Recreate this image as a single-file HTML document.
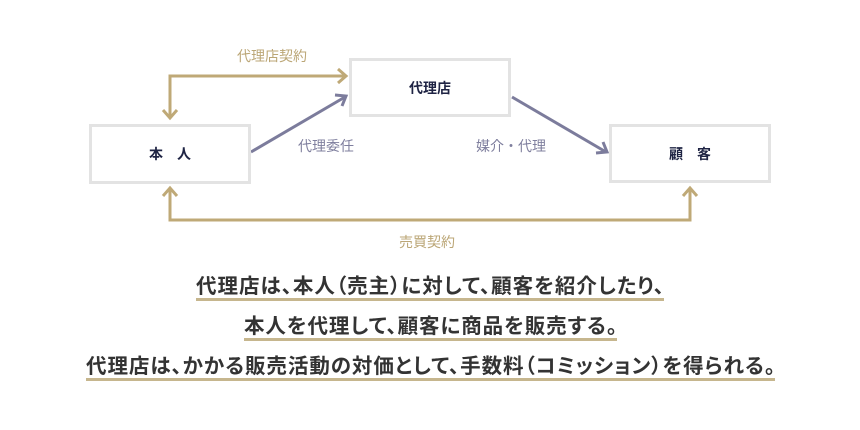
<!DOCTYPE html>
<html><head><meta charset="utf-8"><style>
html,body{margin:0;padding:0;background:#fff;}
body{width:860px;height:430px;position:relative;overflow:hidden;font-family:"Liberation Sans","Noto Sans CJK JP",sans-serif;}
.box{position:absolute;box-sizing:border-box;border:3px solid #e3e3e3;background:#fff;display:flex;align-items:center;justify-content:center;font-size:14px;font-weight:bold;color:#1f2444;}
.lbl{position:absolute;font-size:14px;white-space:nowrap;}
.g{color:#bba676;}
.p{color:#7f7f9e;}
.line{position:absolute;font-size:20.5px;font-weight:bold;color:#333;white-space:nowrap;font-feature-settings:"palt";text-align:justify;text-align-last:justify;border-bottom:3px solid #c6b68e;line-height:22px;padding-bottom:3px;font-family:"Noto Sans CJK JP",sans-serif;}
</style></head><body>
<svg width="860" height="430" style="position:absolute;left:0;top:0">
<g fill="none" stroke="#bfa977" stroke-width="3">
<polyline points="170,117 170,76 345,76"/>
<polyline points="163,110 170,118 177,110"/>
<polyline points="338,69 346,76 338,83"/>
<polyline points="170,189 170,220 690,220 690,189"/>
<polyline points="163,196 170,188 177,196"/>
<polyline points="683,196 690,188 697,196"/>
</g>
<g fill="none" stroke="#7c7c9c" stroke-width="3">
<line x1="251" y1="152" x2="345" y2="97"/>
<polyline points="335,95 346,96 342,106"/>
<line x1="512" y1="97" x2="606" y2="152"/>
<polyline points="596,153 607,152 603,142"/>
</g>
</svg>
<div class="box" style="left:89px;top:124px;width:162px;height:60px;">本　人</div>
<div class="box" style="left:349px;top:58px;width:162px;height:59px;">代理店</div>
<div class="box" style="left:609px;top:124px;width:162px;height:59px;">顧　客</div>
<div class="lbl g" style="left:237px;top:46px;">代理店契約</div>
<div class="lbl g" style="left:399px;top:232px;">売買契約</div>
<div class="lbl p" style="left:298px;top:136px;">代理委任</div>
<div class="lbl p" style="left:476px;top:136px;">媒介・代理</div>
<div class="line" style="left:196px;width:468px;top:273px;">代理店は、本人（売主）に対して、顧客を紹介したり、</div>
<div class="line" style="left:244px;width:373px;top:313px;">本人を代理して、顧客に商品を販売する。</div>
<div class="line" style="left:86px;width:689px;top:353px;">代理店は、かかる販売活動の対価として、手数料（コミッション）を得られる。</div>
</body></html>
